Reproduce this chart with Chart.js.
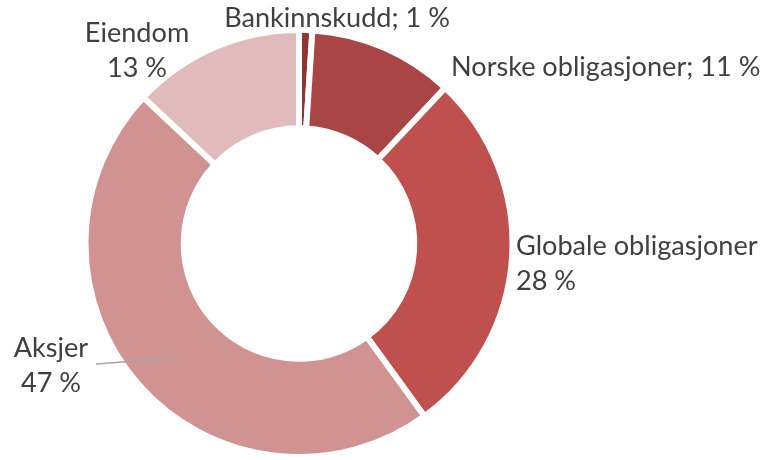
<!DOCTYPE html>
<html>
<head>
<meta charset="utf-8">
<script src="https://cdn.jsdelivr.net/npm/chart.js@4/dist/chart.umd.min.js"></script>
<style>
  html, body { margin: 0; padding: 0; background: #fff; }
  #wrap { width: 767px; height: 460px; position: relative; }
</style>
</head>
<body>
<div id="wrap"><canvas id="donut"></canvas></div>
<script>
// data
var categories = ["Bankinnskudd", "Norske obligasjoner", "Globale obligasjoner", "Aksjer", "Eiendom"];
var shares = [1, 11, 28, 47, 13];
var sliceColors = ["#8E3535", "#A94545", "#C0504D", "#D19292", "#E1BBBB"];

// where each label is drawn (text lines built from the data above)
var labelSpots = [
    { x: 337, y: 27, align: 'center', oneLine: true },
    { x: 451, y: 76, align: 'left', oneLine: true },
    { x: 516, y: 255, align: 'left' },
    { x: 51, y: 357, align: 'center' },
    { x: 137, y: 42, align: 'center' }
];

var fontFamily = "Lato, 'Open Sans', sans-serif";

// scale font so the long label gets about the same width as in the original
var probe = document.createElement('canvas').getContext('2d');
probe.font = "100px " + fontFamily;
var fontSize = Math.round(100 * 242 / probe.measureText("Globale obligasjoner").width * 10) / 10;

var labelPlugin = {
    id: 'sliceLabels',
    afterDraw: function (chart) {
        var ctx = chart.ctx;
        ctx.save();

        // leader line for Aksjer
        ctx.strokeStyle = "#A6A6A6";
        ctx.lineWidth = 1.5;
        ctx.beginPath();
        ctx.moveTo(96, 364);
        ctx.lineTo(174, 358);
        ctx.stroke();

        ctx.fillStyle = "#404040";
        ctx.font = fontSize + "px " + fontFamily;
        ctx.textBaseline = 'alphabetic';
        labelSpots.forEach(function (s, i) {
            ctx.textAlign = s.align;
            var pct = shares[i] + " %";
            if (s.oneLine) {
                ctx.fillText(categories[i] + "; " + pct, s.x, s.y);
            } else {
                ctx.fillText(categories[i], s.x, s.y);
                ctx.fillText(pct, s.x, s.y + 35);
            }
        });
        ctx.restore();
    }
};

var ctx = document.getElementById('donut');
var donutChart = new Chart(ctx, {
    type: 'doughnut',
    data: {
        labels: categories,
        datasets: [{
            data: shares,
            backgroundColor: sliceColors,
            borderColor: "#ffffff",
            borderWidth: 6
        }]
    },
    options: {
        responsive: true,
        maintainAspectRatio: false,
        animation: false,
        cutout: '54%',
        layout: {
            padding: { left: 81, right: 250, top: 27, bottom: -3 }
        },
        plugins: {
            legend: { display: false },
            tooltip: { enabled: false }
        }
    },
    plugins: [labelPlugin]
});
</script>
</body>
</html>
